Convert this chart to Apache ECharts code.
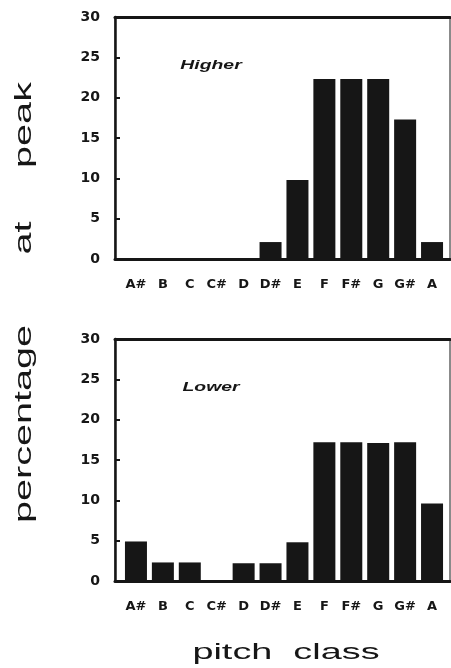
<!DOCTYPE html>
<html>
<head>
<meta charset="utf-8">
<script src="https://cdn.jsdelivr.net/npm/echarts@6/dist/echarts.min.js"></script>
<style>
html, body { margin: 0; padding: 0; background: #fff; }
#chart { width: 451px; height: 668px; }
</style>
</head>
<body>
<div id="chart"></div>
<script>
// pitch classes, one bar each
var categories = ['A#', 'B', 'C', 'C#', 'D', 'D#', 'E', 'F', 'F#', 'G', 'G#', 'A'];
var higherValues = [0, 0, 0, 0, 0, 2.1, 9.8, 22.3, 22.3, 22.3, 17.3, 2.1];
var lowerValues = [4.9, 2.3, 2.3, 0, 2.2, 2.2, 4.8, 17.2, 17.2, 17.1, 17.2, 9.6];
var yTicks = [0, 5, 10, 15, 20, 25, 30];
var panelNames = ['Higher', 'Lower'];
var yTitleWords = ['percentage', 'at', 'peak'];

var ink = '#161616';
var panelTops = [17, 339];

var grids = [], xAxes = [], yAxes = [], series = [], graphics = [];

panelTops.forEach(function (top, p) {
    var frame = grids.length;
    // outer frame grid (axis box, ticks, labels)
    grids.push({ left: 115, top: top, width: 335, height: 242,
        show: true, borderColor: ink, borderWidth: 1 });
    // inner grid for the bars
    grids.push({ left: 122.5, top: top, width: 323, height: 242 });

    xAxes.push({ gridIndex: frame, type: 'value', min: 0, max: 1, position: 'bottom',
        axisLine: { onZero: false, lineStyle: { color: ink, width: 3 } },
        axisTick: { show: false }, axisLabel: { show: false }, splitLine: { show: false } });
    xAxes.push({ gridIndex: frame, type: 'value', min: 0, max: 1, position: 'top',
        axisLine: { onZero: false, lineStyle: { color: ink, width: 3 } },
        axisTick: { show: false }, axisLabel: { show: false }, splitLine: { show: false } });
    xAxes.push({ gridIndex: frame + 1, type: 'category', data: categories,
        axisLine: { show: false }, axisTick: { show: false },
        axisLabel: { margin: 19, color: ink, fontFamily: 'DejaVu Sans', fontWeight: 'bold', fontSize: 13,
            interval: 0 } });

    yAxes.push({ gridIndex: frame, type: 'value', min: yTicks[0], max: yTicks[yTicks.length - 1],
        interval: yTicks[1] - yTicks[0], position: 'left',
        axisLine: { show: true, lineStyle: { color: ink, width: 2.5 } },
        axisTick: { show: true, inside: true, length: 5, lineStyle: { color: ink, width: 2 } },
        axisLabel: { margin: 15, color: ink, fontFamily: 'DejaVu Sans', fontWeight: 'bold', fontSize: 14 },
        splitLine: { show: false } });
    yAxes.push({ gridIndex: frame, type: 'value', min: 0, max: 30, position: 'right',
        axisLine: { show: true, lineStyle: { color: ink, width: 1 } },
        axisTick: { show: false }, axisLabel: { show: false }, splitLine: { show: false } });
    yAxes.push({ gridIndex: frame + 1, type: 'value', min: 0, max: 30, show: false });

    series.push({ type: 'bar', xAxisIndex: xAxes.length - 1, yAxisIndex: yAxes.length - 1,
        data: p === 0 ? higherValues : lowerValues, barWidth: 22,
        itemStyle: { color: ink }, silent: true });

    graphics.push({ type: 'text', x: 211, y: top + 49, scaleX: 1.55,
        style: { text: panelNames[p], fill: ink, fontFamily: 'Liberation Sans',
            fontStyle: 'italic', fontWeight: 'bold', fontSize: 12.5,
            align: 'center', verticalAlign: 'middle' } });
});

// shared y title, read bottom to top, one word at a time
var yTitleCentres = [424, 238, 125];
yTitleWords.forEach(function (w, i) {
    graphics.push({ type: 'text', x: 24, y: yTitleCentres[i], rotation: Math.PI / 2, scaleX: 1.65,
        style: { text: w, fill: ink, fontFamily: 'Liberation Sans',
            fontSize: 24, align: 'center', verticalAlign: 'middle' } });
});
graphics.push({ type: 'text', x: 286, y: 653, scaleX: 1.72,
    style: { text: 'pitch  class', fill: ink, fontFamily: 'Liberation Sans',
        fontSize: 22, align: 'center', verticalAlign: 'middle' } });

var myChart = echarts.init(document.getElementById('chart'));
myChart.setOption({
    animation: false,
    grid: grids,
    xAxis: xAxes,
    yAxis: yAxes,
    series: series,
    graphic: graphics
});
</script>
</body>
</html>
